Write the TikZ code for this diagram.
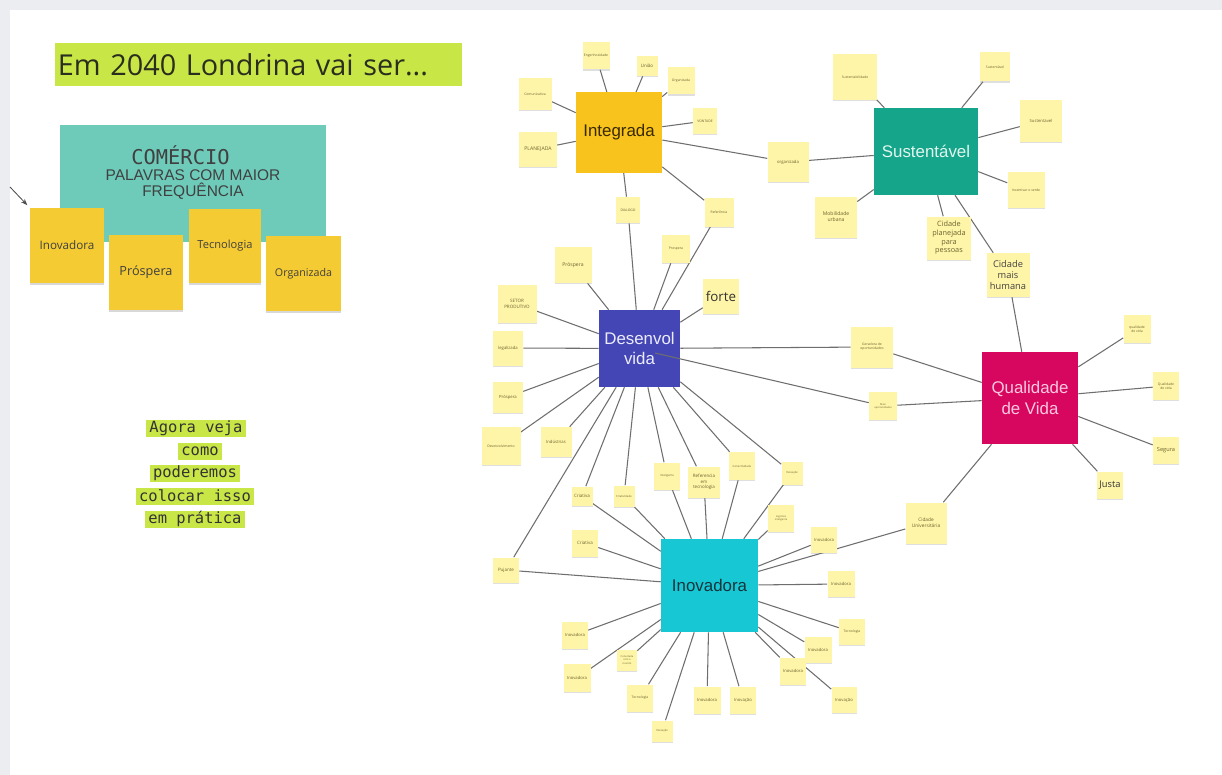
\documentclass[tikz,border=0pt]{standalone}
\usepackage{fontspec}
\setmainfont{Open Sans}
\newfontfamily\arialf{Liberation Sans}
\newfontfamily\monof{DejaVu Sans Mono}
\usepackage{tikz}
\usetikzlibrary{arrows.meta,shadows,backgrounds}

\definecolor{boardgray}{HTML}{ECEDF0}
\definecolor{limey}{HTML}{C9E647}
\definecolor{tealc}{HTML}{6ECBBA}
\definecolor{stickyd}{HTML}{F5CB33}
\definecolor{notey}{HTML}{FFF5A8}
\definecolor{integc}{HTML}{F8C31C}
\definecolor{sustc}{HTML}{14A58A}
\definecolor{desc}{HTML}{4446B5}
\definecolor{qualc}{HTML}{D7075F}
\definecolor{inovc}{HTML}{17C8D4}
\definecolor{linkc}{HTML}{6E6E6E}
\definecolor{notetext}{HTML}{6B6330}

\begin{document}
\begin{tikzpicture}[x=0.025cm,y=-0.025cm,
  sz/.style 2 args={minimum width=#1*0.025cm,minimum height=#2*0.025cm},
  note/.style={fill=notey,inner sep=0pt,align=center,text=notetext,
    font=\fontsize{2.4}{2.9}\selectfont,
    drop shadow={shadow xshift=0pt,shadow yshift=-0.9pt,opacity=0.25}},
  small/.style={font=\fontsize{3.6}{4.4}\selectfont},
  mid/.style={font=\fontsize{5.2}{6.2}\selectfont},
  sticky/.style={fill=stickyd,inner sep=0pt,align=center,text=black!75,
    drop shadow={shadow xshift=0pt,shadow yshift=-1.6pt,opacity=0.3}},
  hub/.style={inner sep=0pt,align=center,font=\arialf\fontsize{12}{14.5}\selectfont},
  mono/.style={fill=limey,inner xsep=2.5pt,inner ysep=0pt,minimum height=17*0.025cm,
    text=black!80,font=\monof\fontsize{11}{13}\selectfont},
  link/.style={draw=linkc,line width=0.75pt},
]
  \useasboundingbox (0,0) rectangle (1222,775);

  % title and word frequency block
  \node[fill=limey,sz={407}{43},inner xsep=2pt,text width=10.03cm,align=left,
    text={rgb,255:red,42;green,46;blue,30},font=\fontsize{20.5}{24}\selectfont]
    (title) at (258.5,64.5) {Em 2040 Londrina vai ser...};
  \node[fill=tealc,sz={266}{117},inner sep=0pt] (comercio) at (193,183.5) {};
  \node[font=\monof\fontsize{14.5}{16}\selectfont,text=black!75,inner sep=0pt]
    (comtitle) at (180.5,155) {COMÉRCIO};
  \node[font=\arialf\fontsize{11}{12}\selectfont,text=black!75,align=center,inner sep=0pt]
    (comsub) at (193,184.5) {PALAVRAS COM MAIOR\\FREQUÊNCIA};
  \node[sticky,sz={74}{75},font=\fontsize{8.3}{10}\selectfont] (cInov) at (67,245.5) {Inovadora};
  \node[sticky,sz={74}{75},font=\fontsize{9}{10}\selectfont] (cProsp) at (146,272.5) {Próspera};
  \node[sticky,sz={72}{74},font=\fontsize{7.9}{10}\selectfont] (cTec) at (225,246) {Tecnologia};
  \node[sticky,sz={75}{75},font=\fontsize{7.6}{10}\selectfont] (cOrg) at (303.5,273.5) {Organizada};
  \coordinate (arrowtail) at (10,187);
  \draw[draw=black!70,line width=0.6pt,-{Stealth[length=1.6mm]},shorten >=2.5pt]
    (arrowtail) -- (cInov.north west);

  \node[mono] (agora1) at (196,428) {Agora veja};
  \node[mono] (agora2) at (200,451) {como};
  \node[mono] (agora3) at (195,473) {poderemos};
  \node[mono] (agora4) at (195,496) {colocar isso};
  \node[mono] (agora5) at (195,519) {em prática};

  % hubs
  \node[hub,fill=integc,sz={86}{80},text={rgb,255:red,58;green,42;blue,0}] (integ) at (619,132.5) {Integrada};
  \node[hub,fill=sustc,sz={104}{87},text={rgb,255:red,226;green,246;blue,238}] (sust) at (926,151.5) {Sustentável};
  \node[hub,fill=desc,sz={81}{77},text={rgb,255:red,236;green,236;blue,250}] (desv) at (639.5,348.5) {Desenvol\\vida};
  \node[hub,fill=qualc,sz={96}{92},text={rgb,255:red,250;green,200;blue,224}] (qual) at (1030,398) {Qualidade\\de Vida};
  \node[hub,fill=inovc,sz={97}{93},text={rgb,255:red,22;green,52;blue,60}] (inov) at (709.5,585.5) {Inovadora};

  % notes round Integrada
  \node[note,sz={27}{27}] (iEng) at (596,56) {Engenhosidade};
  \node[note,sz={21}{20},font=\fontsize{3.2}{4}\selectfont] (iUniao) at (647,66) {União};
  \node[note,sz={27}{27}] (iOrg) at (681,81) {Organizada};
  \node[note,sz={24}{26}] (iVont) at (705,121) {VONTADE};
  \node[note,sz={33}{32}] (iCom) at (535,94) {Comunicativa};
  \node[note,small,sz={38}{35}] (iPlan) at (538,149) {PLANEJADA};
  \node[note,sz={24}{26}] (iDial) at (628,210) {DIALOGO};
  \node[note,sz={29}{29}] (iRef) at (719,212) {Referência};
  \node[note,sz={41}{40},font=\fontsize{3}{3.6}\selectfont] (sOrg) at (788,162) {organizada};

  % notes round Sustentavel
  \node[note,sz={44}{45}] (sSust1) at (855,77) {Sustentabilidade};
  \node[note,sz={30}{29}] (sSust2) at (995,67) {Sustentável};
  \node[note,sz={42}{42},font=\fontsize{3}{3.6}\selectfont] (sSust3) at (1041,121) {Sustentavel};
  \node[note,sz={37}{36}] (sIncent) at (1026,190) {Incentivar o verde};
  \node[note,small,sz={42}{41}] (sMob) at (836,217) {Mobilidade\\urbana};
  \node[note,mid,sz={44}{43}] (sCidPl) at (949,238) {Cidade\\planejada\\para\\pessoas};
  \node[note,sz={43}{44},font=\fontsize{6.6}{7.8}\selectfont,text=black!75] (sCidHum) at (1008,275) {Cidade\\mais\\humana};

  % notes round Desenvolvida
  \node[note,small,sz={37}{36}] (dProsp1) at (573,265) {Próspera};
  \node[note,sz={28}{28}] (dProsp2) at (676,249) {Prospera};
  \node[note,sz={36}{35},font=\fontsize{9.5}{11}\selectfont,text=black!80] (dForte) at (721,296) {forte};
  \node[note,sz={39}{38},font=\fontsize{3.2}{4}\selectfont] (dSetor) at (517,304) {SETOR\\PRODUTIVO};
  \node[note,sz={30}{35},font=\fontsize{3}{3.6}\selectfont] (dLegal) at (508,348) {legalizada};
  \node[note,sz={30}{31},font=\fontsize{3}{3.6}\selectfont] (dProsp3) at (508,397) {Próspera};
  \node[note,sz={39}{38}] (dDesenv) at (501,446) {Desenvolvimento};
  \node[note,sz={31}{30},font=\fontsize{3}{3.6}\selectfont] (dIndus) at (556,442) {Indústrias};
  \node[note,sz={42}{41}] (dGerad) at (872,347) {Geradora de\\oportunidades};
  \node[note,sz={28}{28},font=\fontsize{1.8}{2.3}\selectfont] (dMais) at (883,406) {Mais\\oportunidades};
  \node[note,sz={26}{25},font=\fontsize{3.2}{4}\selectfont] (dPuj) at (506,570) {Pujante};
  \node[note,sz={21}{19},font=\fontsize{3.2}{4}\selectfont] (dCriat1) at (582,496) {Criativa};
  \node[note,sz={21}{21},font=\fontsize{2}{2.5}\selectfont] (dCriat2) at (624,496) {Criatividade};
  \node[note,sz={26}{27},font=\fontsize{2}{2.5}\selectfont] (dIntel) at (667,476) {Inteligente};
  \node[note,sz={32}{31},font=\fontsize{3.2}{4}\selectfont] (dRefTec) at (704,482) {Referencia\\em\\tecnologia};
  \node[note,sz={26}{28},font=\fontsize{2}{2.5}\selectfont] (dConect) at (742,466) {Conectividade};
  \node[note,sz={21}{23},font=\fontsize{2}{2.5}\selectfont] (dInov) at (792,473) {Inovação};

  % notes round Inovadora
  \node[note,sz={26}{27},font=\fontsize{3.2}{4}\selectfont] (nCriat) at (585,543) {Criativa};
  \node[note,sz={26}{27},font=\fontsize{3}{3.6}\selectfont] (nInov1) at (575,635) {Inovadora};
  \node[note,sz={27}{28},font=\fontsize{3}{3.6}\selectfont] (nInov2) at (577,678) {Inovadora};
  \node[note,sz={20}{21},font=\fontsize{1.8}{2.2}\selectfont] (nConec) at (627,660) {Conectada\\com o\\mundo};
  \node[note,sz={26}{27}] (nTec1) at (640,698) {Tecnologia};
  \node[note,sz={21}{21},font=\fontsize{2}{2.5}\selectfont] (nInovc1) at (662,731) {Inovação};
  \node[note,sz={27}{27},font=\fontsize{3}{3.6}\selectfont] (nInov3) at (707,700) {Inovadora};
  \node[note,sz={26}{27},font=\fontsize{3}{3.6}\selectfont] (nInovc2) at (743,700) {Inovação};
  \node[note,sz={26}{27},font=\fontsize{1.8}{2.2}\selectfont] (nIA) at (781,518) {Logística\\inteligente};
  \node[note,sz={26}{26},font=\fontsize{3}{3.6}\selectfont] (nInov4) at (824,540) {Inovadora};
  \node[note,sz={41}{41},font=\fontsize{3.4}{4.2}\selectfont] (nCidUni) at (926,523) {Cidade\\Universitária};
  \node[note,sz={27}{26},font=\fontsize{3}{3.6}\selectfont] (nInov5) at (841,584) {Inovadora};
  \node[note,sz={26}{26}] (nTec2) at (852,632) {Tecnologia};
  \node[note,sz={27}{26},font=\fontsize{3}{3.6}\selectfont] (nInov6) at (818,650) {Inovadora};
  \node[note,sz={26}{27},font=\fontsize{3}{3.6}\selectfont] (nInov7) at (793,671) {Inovadora};
  \node[note,sz={25}{26},font=\fontsize{3}{3.6}\selectfont] (nInovc3) at (844,700) {Inovação};

  % notes round Qualidade de Vida
  \node[note,sz={27}{28}] (qQual1) at (1137,329) {qualidade\\de vida};
  \node[note,sz={26}{28}] (qQual2) at (1166,386) {Qualidade\\de vida};
  \node[note,sz={26}{27},font=\fontsize{4}{5}\selectfont] (qSeg) at (1166,450) {Segura};
  \node[note,sz={26}{27},font=\fontsize{6.6}{8}\selectfont,text=black!80] (qJusta) at (1110,485) {Justa};

  \coordinate (dvin) at (655,353);
  \draw[link] (dvin) -- (dMais);

  \begin{scope}[on background layer]
    \fill[boardgray] (0,0) rectangle (1222,775);
    \fill[white] (10,10) rectangle (1222,775);
    % Integrada
    \draw[link] (integ) -- (iEng);
    \draw[link] (integ) -- (iUniao);
    \draw[link] (integ) -- (iOrg);
    \draw[link] (integ) -- (iVont);
    \draw[link] (integ) -- (iCom);
    \draw[link] (integ) -- (iPlan);
    \draw[link] (integ) -- (iDial);
    \draw[link] (integ) -- (iRef);
    \draw[link] (integ) -- (sOrg);
    \draw[link] (sOrg) -- (sust);
    \draw[link] (iDial) -- (desv);
    \draw[link] (iRef) -- (desv);
    % Sustentavel
    \draw[link] (sust) -- (sSust1);
    \draw[link] (sust) -- (sSust2);
    \draw[link] (sust) -- (sSust3);
    \draw[link] (sust) -- (sIncent);
    \draw[link] (sust) -- (sMob);
    \draw[link] (sust) -- (sCidPl);
    \draw[link] (sust) -- (sCidHum);
    \draw[link] (sCidHum) -- (qual);
    % Desenvolvida
    \draw[link] (desv) -- (dProsp1);
    \draw[link] (desv) -- (dProsp2);
    \draw[link] (desv) -- (dForte);
    \draw[link] (desv) -- (dSetor);
    \draw[link] (desv) -- (dLegal);
    \draw[link] (desv) -- (dProsp3);
    \draw[link] (desv) -- (dDesenv);
    \draw[link] (desv) -- (dIndus);
    \draw[link] (desv) -- (dGerad);
    \draw[link] (desv) -- (dPuj);
    \draw[link] (desv) -- (dCriat1);
    \draw[link] (desv) -- (dCriat2);
    \draw[link] (desv) -- (dIntel);
    \draw[link] (desv) -- (dRefTec);
    \draw[link] (desv) -- (dConect);
    \draw[link] (desv) -- (dInov);
    \draw[link] (dGerad) -- (qual);
    \draw[link] (dMais) -- (qual);
    % Inovadora
    \draw[link] (inov) -- (dCriat1);
    \draw[link] (inov) -- (dCriat2);
    \draw[link] (inov) -- (dIntel);
    \draw[link] (inov) -- (dRefTec);
    \draw[link] (inov) -- (dConect);
    \draw[link] (inov) -- (dInov);
    \draw[link] (inov) -- (nCriat);
    \draw[link] (inov) -- (dPuj);
    \draw[link] (inov) -- (nInov1);
    \draw[link] (inov) -- (nInov2);
    \draw[link] (inov) -- (nConec);
    \draw[link] (inov) -- (nTec1);
    \draw[link] (inov) -- (nInovc1);
    \draw[link] (inov) -- (nInov3);
    \draw[link] (inov) -- (nInovc2);
    \draw[link] (inov) -- (nIA);
    \draw[link] (inov) -- (nInov4);
    \draw[link] (inov) -- (nCidUni);
    \draw[link] (inov) -- (nInov5);
    \draw[link] (inov) -- (nTec2);
    \draw[link] (inov) -- (nInov6);
    \draw[link] (inov) -- (nInov7);
    \draw[link] (inov) -- (nInovc3);
    \draw[link] (nCidUni) -- (qual);
    % Qualidade de Vida
    \draw[link] (qual) -- (qQual1);
    \draw[link] (qual) -- (qQual2);
    \draw[link] (qual) -- (qSeg);
    \draw[link] (qual) -- (qJusta);
  \end{scope}
\end{tikzpicture}
\end{document}
